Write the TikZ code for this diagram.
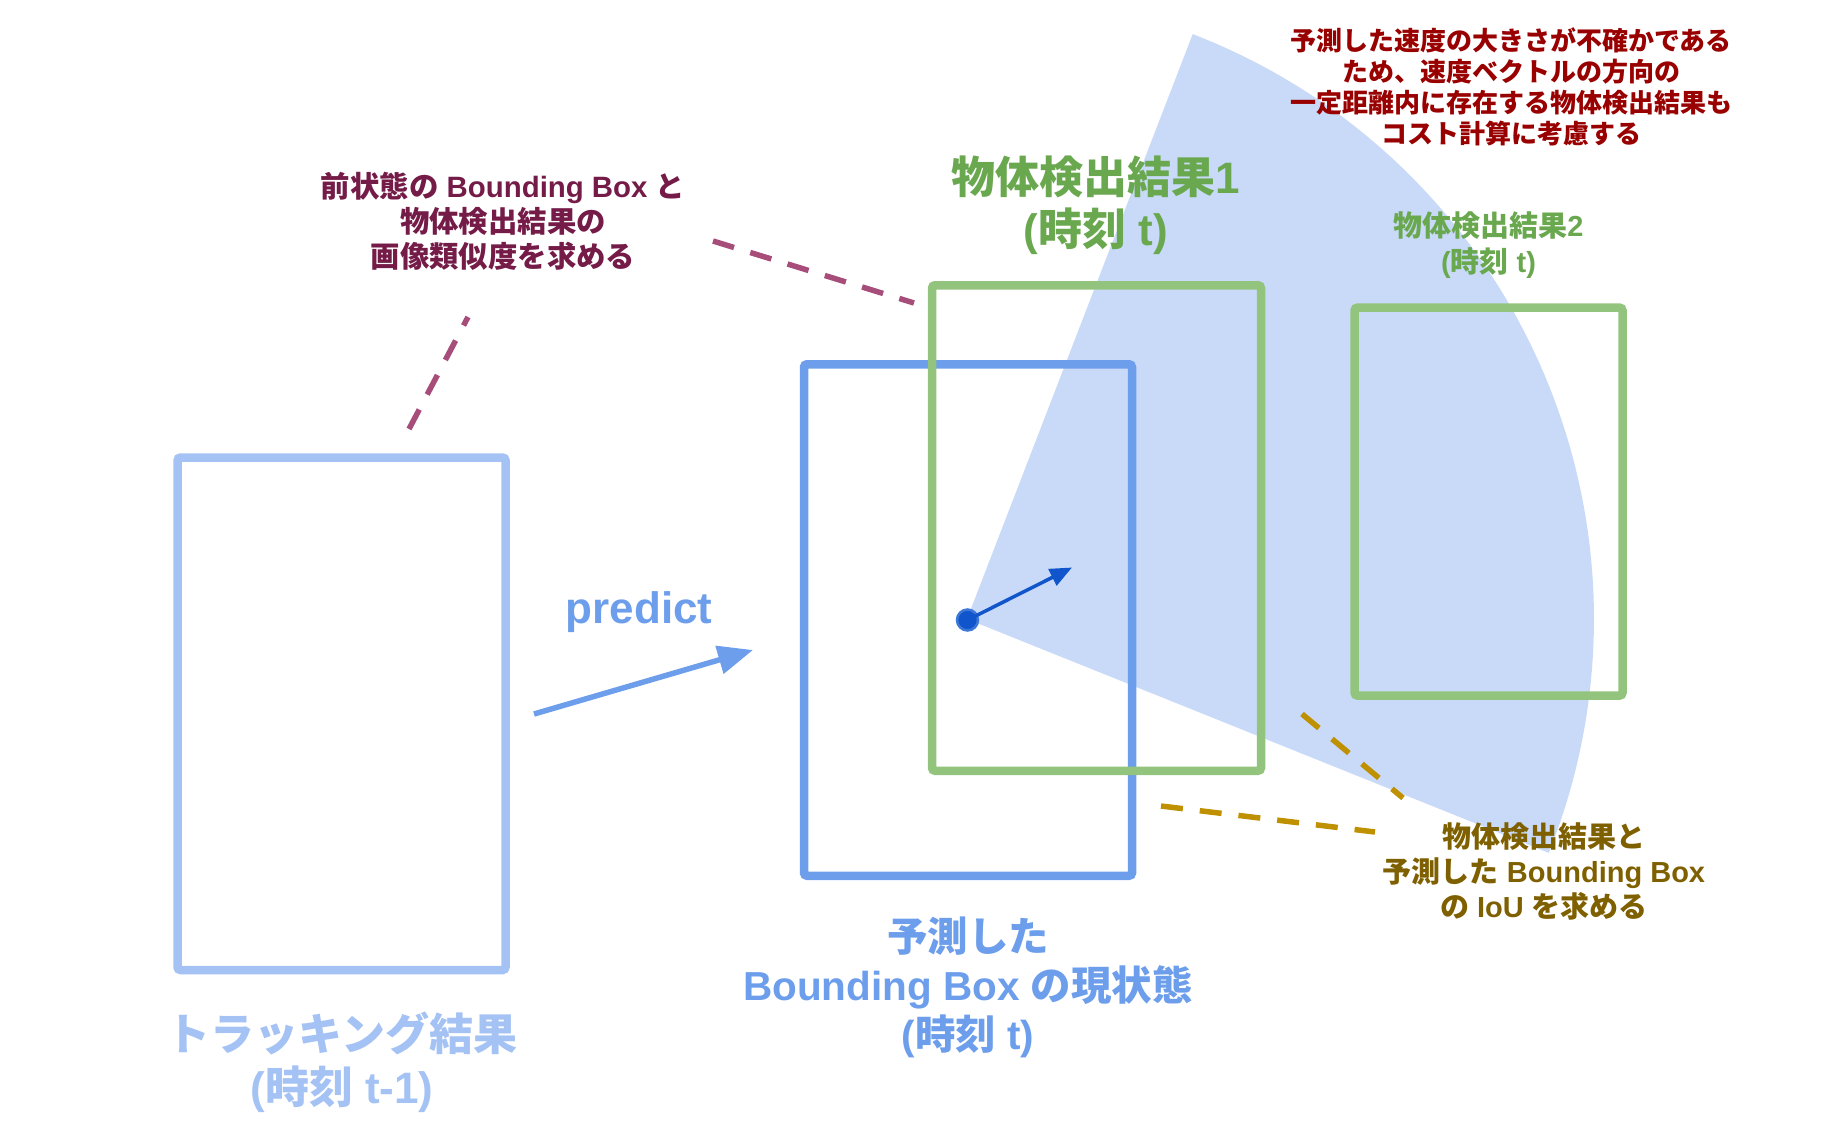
\documentclass[tikz,border=0pt]{standalone}
\usepackage{fontspec}
\setmainfont{Liberation Sans}
\newfontfamily\jp{Noto Sans CJK JP}
\usetikzlibrary{arrows.meta}
\definecolor{trackblue}{HTML}{A4C2F4}
\definecolor{predblue}{HTML}{6D9EEB}
\definecolor{sectblue}{HTML}{C9DAF8}
\definecolor{velblue}{HTML}{1155CC}
\definecolor{velring}{HTML}{3C78D8}
\definecolor{detgreen}{HTML}{93C47D}
\definecolor{detgreentext}{HTML}{6AA84F}
\definecolor{plum}{HTML}{741B47}
\definecolor{plumdash}{HTML}{A64D79}
\definecolor{darkred}{HTML}{990000}
\definecolor{goldtext}{HTML}{7F6000}
\definecolor{golddash}{HTML}{BF9000}
\newcommand\J[1]{{\jp #1}}
\tikzset{
  boxbase/.style={draw, line width=8.5pt, rounded corners=3pt, inner sep=0pt, outer sep=0pt, fill=none},
  trackbox/.style={boxbase, draw=trackblue},
  predbox/.style={boxbase, draw=predblue},
  detbox/.style={boxbase, draw=detgreen},
  lbl/.style={align=center, inner sep=0pt, font=\bfseries},
  plumleader/.style={draw=plumdash, line width=5.5pt, dash pattern=on 22pt off 17pt},
  goldleader/.style={draw=golddash, line width=5.5pt, dash pattern=on 22pt off 17pt},
  predarrow/.style={draw=predblue, line width=5.5pt, -{Triangle[length=35pt,width=28pt]}},
  velarrow/.style={draw=velblue, line width=3.5pt, -{Triangle[length=22pt,width=18pt]}},
}
\begin{document}
\begin{tikzpicture}[x=1pt, y=-1pt]
\useasboundingbox (0,0) rectangle (1842,1138);
% uncertainty sector
\fill[sectblue] (967,619) -- plot[domain=-68.9:21.9, samples=80] ({967+627*cos(\x)},{619+627*sin(\x)}) -- cycle;

% boxes
\node[trackbox, minimum width=328pt, minimum height=512.5pt] (track) at (341.5,713.75) {};
\node[predbox, minimum width=328pt, minimum height=511.5pt] (pred) at (968,620) {};
\node[detbox, minimum width=329pt, minimum height=485.5pt] (det1) at (1096.5,528) {};
\node[detbox, minimum width=268pt, minimum height=388pt] (det2) at (1488.5,501.6) {};

% velocity
\node[circle, fill=velblue, draw=velring, line width=2.5pt, minimum size=21pt, inner sep=0pt] (dot) at (967.5,620) {};
\coordinate (vtip) at (1072,567.5);
\draw[velarrow] (dot.center) -- (vtip);

% predict arrow
\coordinate (pa) at (534,714);
\coordinate (pb) at (753,650);
\draw[predarrow] (pa) -- (pb);
\node[lbl, text=predblue, font=\bfseries\fontsize{44}{52}\selectfont] (predict) at (639,612) {predict};

% labels
\node[lbl, text=darkred, font=\bfseries\fontsize{26}{30.8}\selectfont] (note) at (1511,87)
  {\J{予測した速度の大きさが不確かである}\\ \J{ため、速度ベクトルの方向の}\\ \J{一定距離内に存在する物体検出結果も}\\ \J{コスト計算に考慮する}};
\node[lbl, text=plum, font=\bfseries\fontsize{29.4}{35}\selectfont] (simtext) at (503,221)
  {\J{前状態の} Bounding Box \J{と}\\ \J{物体検出結果の}\\ \J{画像類似度を求める}};
\node[lbl, text=detgreentext, font=\bfseries\fontsize{44}{52}\selectfont] (det1lbl) at (1096,205)
  {\J{物体検出結果}1\\ (\J{時刻} t)};
\node[lbl, text=detgreentext, font=\bfseries\fontsize{29}{36.5}\selectfont] (det2lbl) at (1488.5,245)
  {\J{物体検出結果}2\\ (\J{時刻} t)};
\node[lbl, text=goldtext, font=\bfseries\fontsize{29}{35}\selectfont] (ioutext) at (1544,871)
  {\J{物体検出結果と}\\ \J{予測した} Bounding Box\\ \J{の} IoU \J{を求める}};
\node[lbl, text=predblue, font=\bfseries\fontsize{40.5}{49}\selectfont] (predlbl) at (968,987)
  {\J{予測した}\\ Bounding Box \J{の現状態}\\ (\J{時刻} t)};
\node[lbl, text=trackblue, font=\bfseries\fontsize{44}{53}\selectfont] (tracklbl) at (342,1062)
  {\J{トラッキング結果}\\ (\J{時刻} t-1)};

% leaders
\coordinate (p1a) at (409,429);
\coordinate (p1b) at (468,317);
\coordinate (p2a) at (713,241);
\coordinate (p2b) at (914,303);
\draw[plumleader] (p1a) -- (p1b);
\draw[plumleader] (p2a) -- (p2b);
\coordinate (g1a) at (1302,714);
\coordinate (g1b) at (1403,798);
\coordinate (g2a) at (1161,806);
\coordinate (g2b) at (1375,832);
\draw[goldleader] (g1a) -- (g1b);
\draw[goldleader] (g2a) -- (g2b);
\end{tikzpicture}
\end{document}
